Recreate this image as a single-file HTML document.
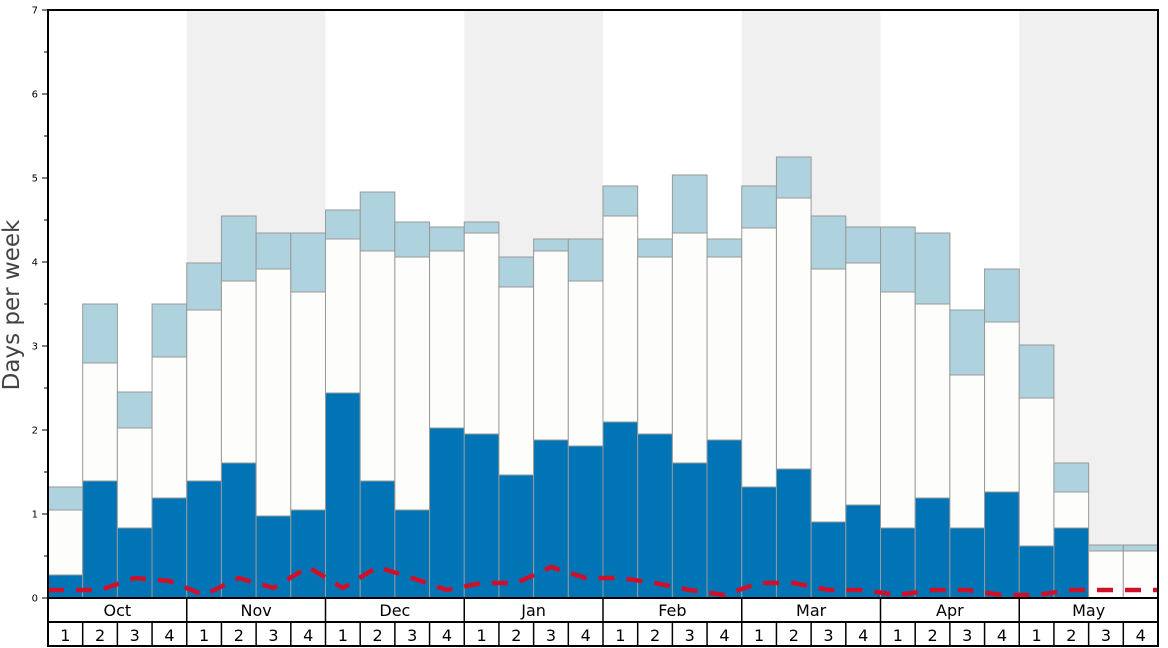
<!DOCTYPE html><html><head><style>body{margin:0;background:#fff}svg{display:block;font-family:"DejaVu Sans","Liberation Sans",sans-serif}</style></head><body>
<svg id="s" width="1168" height="648" xmlns="http://www.w3.org/2000/svg"></svg>
<script>
const s=document.getElementById('s');let h='';
const X0=48,X1=1158,Y0=598,Y7=10,W=(X1-X0)/32;
const d=[[575,510,487],[481,363,304],[528,428,392],[498,357,304],[481,310,263],[463,281,216],[516,269,233],[510,292,233],[393,239,210],[481,251,192],[510,257,222],[428,251,227],[434,233,222],[475,287,257],[440,251,239],[446,281,239],[422,216,186],[434,257,239],[463,233,175],[440,257,239],[487,228,186],[469,198,157],[522,269,216],[505,263,227],[528,292,227],[498,304,233],[528,375,310],[492,322,269],[546,398,345],[528,492,463],[598,551,545],[598,551,545]];
const r=[590,590,578,581,595,578,588,567,588,567,578,590,583,583,567,578,578,583,590,595,583,583,590,590,595,590,590,595,595,590,590,590];
const m=['Oct','Nov','Dec','Jan','Feb','Mar','Apr','May'];
for(let i=1;i<8;i+=2)h+=`<rect x="${X0+i*4*W}" y="${Y7}" width="${4*W}" height="${Y0-Y7}" fill="#f0f0f0"/>`;
d.forEach((b,i)=>{const x=X0+i*W;
h+=`<rect x="${x}" y="${b[2]}" width="${W}" height="${b[1]-b[2]}" fill="#aed3df" stroke="#999" stroke-width="1"/>`;
h+=`<rect x="${x}" y="${b[1]}" width="${W}" height="${b[0]-b[1]}" fill="#fdfdfb" stroke="#999" stroke-width="1"/>`;
if(b[0]<598)h+=`<rect x="${x}" y="${b[0]}" width="${W}" height="${598-b[0]}" fill="#0074b5" stroke="#999" stroke-width="1"/>`;});
let p=r.map((y,i)=>`${i==0?X0:i==31?X1:X0+(i+.5)*W},${y}`).join(' ');
h+=`<polyline points="${p}" fill="none" stroke="#d0102a" stroke-width="4.5" stroke-dasharray="16,12"/>`;
h+=`<rect x="${X0}" y="${Y7}" width="${X1-X0}" height="${Y0-Y7}" fill="none" stroke="#000" stroke-width="2"/>`;
for(let v=0;v<=7;v++){const y=Y0-v*84;h+=`<line x1="42" x2="48" y1="${y}" y2="${y}" stroke="#000"/><text x="38" y="${y+3.5}" font-size="10" text-anchor="end">${v}</text>`;if(v<7)h+=`<line x1="44" x2="48" y1="${y-42}" y2="${y-42}" stroke="#000"/>`;}
h+=`<text transform="translate(19,305) rotate(-90)" font-size="23" fill="#444" text-anchor="middle">Days per week</text>`;
h+=`<line x1="${X0}" x2="${X1}" y1="622" y2="622" stroke="#000" stroke-width="2"/><line x1="${X0}" x2="${X1}" y1="646" y2="646" stroke="#000" stroke-width="2"/>`;
h+=`<line x1="${X0}" x2="${X0}" y1="598" y2="647" stroke="#000" stroke-width="2"/><line x1="${X1}" x2="${X1}" y1="598" y2="647" stroke="#000" stroke-width="2"/>`;
for(let i=0;i<8;i++){const x=X0+i*4*W;if(i)h+=`<line x1="${x}" x2="${x}" y1="598" y2="646" stroke="#000" stroke-width="1.5"/>`;h+=`<text x="${x+2*W}" y="616" font-size="16" text-anchor="middle">${m[i]}</text>`;}
for(let i=0;i<32;i++){const x=X0+i*W;if(i%4)h+=`<line x1="${x}" x2="${x}" y1="622" y2="646" stroke="#000" stroke-width="1.5"/>`;h+=`<text x="${x+W/2}" y="641" font-size="16" text-anchor="middle">${i%4+1}</text>`;}
s.innerHTML=h;
</script></body></html>
